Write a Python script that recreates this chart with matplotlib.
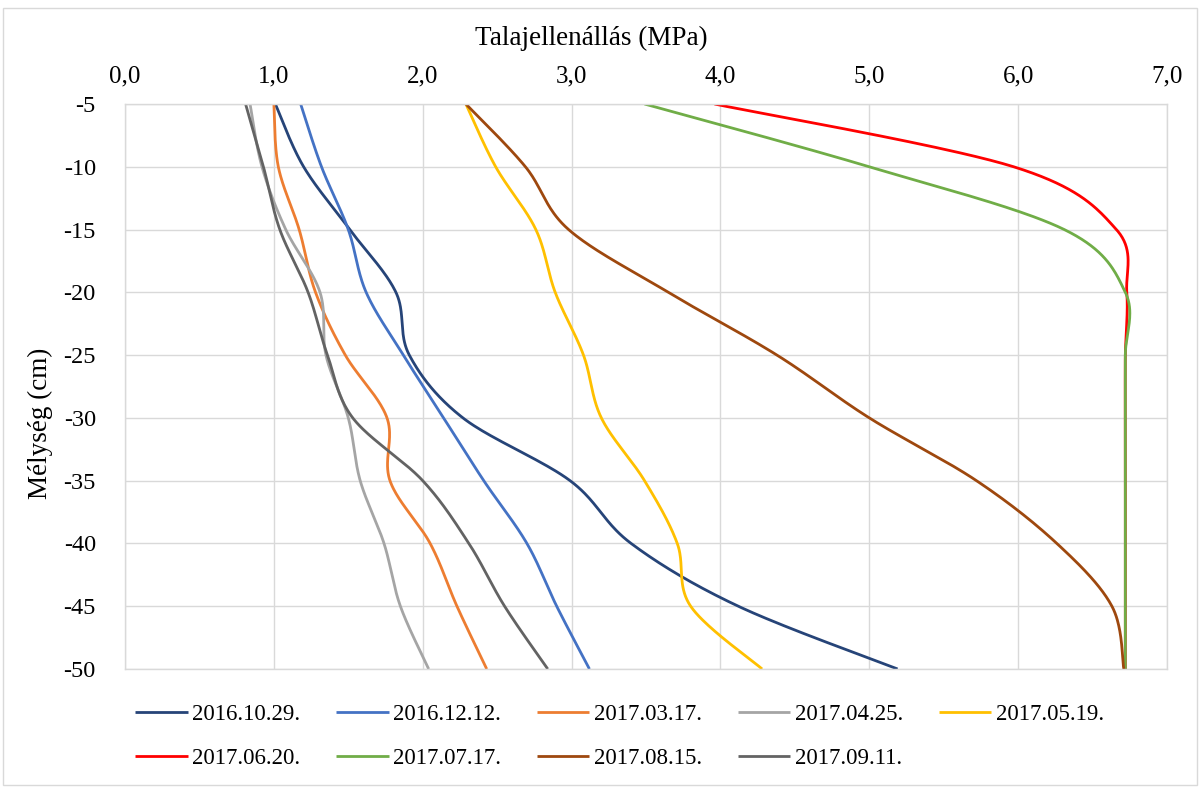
import matplotlib
matplotlib.use("Agg")
import matplotlib.pyplot as plt
import numpy as np
from matplotlib.patches import Rectangle

plt.rcParams['font.family'] = ['Liberation Serif', 'DejaVu Serif']
plt.rcParams['axes.unicode_minus'] = False

# Mélységek (cm) és talajellenállás (MPa) mérési időpontonként
melyseg = [-5, -10, -15, -20, -25, -30, -35, -40, -45, -50]

d_20161029 = [1.01, 1.20, 1.51, 1.82, 1.91, 2.27, 2.99, 3.40, 4.12, 5.19]
d_20161212 = [1.18, 1.32, 1.50, 1.62, 1.87, 2.14, 2.41, 2.70, 2.90, 3.12]
d_20170317 = [1.00, 1.03, 1.17, 1.28, 1.48, 1.76, 1.78, 2.05, 2.23, 2.43]
d_20170425 = [0.84, 0.92, 1.08, 1.31, 1.35, 1.50, 1.58, 1.74, 1.85, 2.04]
d_20170519 = [2.29, 2.49, 2.76, 2.89, 3.08, 3.20, 3.49, 3.71, 3.80, 4.28]
d_20170620 = [3.96, 5.97, 6.66, 6.73, 6.72, 6.72, 6.72, 6.72, 6.72, 6.72]
d_20170717 = [3.49, 5.00, 6.31, 6.72, 6.72, 6.72, 6.72, 6.72, 6.72, 6.72]
d_20170815 = [2.29, 2.69, 2.98, 3.65, 4.38, 5.00, 5.72, 6.26, 6.63, 6.71]
d_20170911 = [0.81, 0.93, 1.04, 1.23, 1.36, 1.53, 2.00, 2.31, 2.55, 2.84]

SOROZATOK = [
    ('2016.10.29.', d_20161029, '#264478'),
    ('2016.12.12.', d_20161212, '#4472C4'),
    ('2017.03.17.', d_20170317, '#ED7D31'),
    ('2017.04.25.', d_20170425, '#A5A5A5'),
    ('2017.05.19.', d_20170519, '#FFC000'),
    ('2017.06.20.', d_20170620, '#FF0000'),
    ('2017.07.17.', d_20170717, '#70AD47'),
    ('2017.08.15.', d_20170815, '#9E480E'),
    ('2017.09.11.', d_20170911, '#636363'),
]


def simitott(x, y, n=40):
    """Excel-szerű simított vonal (Catmull-Rom / Bezier szakaszok)"""
    p = np.column_stack([x, y]).astype(float)
    p = np.vstack([p[0], p, p[-1]])
    t = np.linspace(0, 1, n)[:, None]
    darabok = []
    for i in range(1, len(p) - 2):
        p0, p1, p2, p3 = p[i - 1], p[i], p[i + 1], p[i + 2]
        c1 = p1 + (p2 - p0) / 6
        c2 = p2 - (p3 - p1) / 6
        seg = ((1 - t) ** 3 * p1 + 3 * (1 - t) ** 2 * t * c1
               + 3 * (1 - t) * t ** 2 * c2 + t ** 3 * p2)
        darabok.append(seg if i == 1 else seg[1:])
    g = np.vstack(darabok)
    return g[:, 0], g[:, 1]


fig = plt.figure(figsize=(12, 7.87), dpi=100)
ax = fig.add_axes([125 / 1200, 1 - 669 / 787, 1042 / 1200, 565 / 787])

vonalak = []
for nev, ertek, szin in SOROZATOK:
    xs, ys = simitott(ertek, melyseg)
    l, = ax.plot(xs, ys, color=szin, lw=2.0, label=nev, solid_capstyle='butt')
    vonalak.append(l)

ax.set_xlim(0, 7)
ax.set_ylim(-50, -5)
ax.set_xticks(np.arange(0, 8, 1))
ax.set_xticklabels([f'{v:.1f}'.replace('.', ',') for v in range(8)])
ax.set_yticks(melyseg)
ax.set_yticklabels([str(v) for v in melyseg])
ax.xaxis.tick_top()
ax.tick_params(axis='x', length=0, pad=12, labelsize=18)
ax.tick_params(axis='y', length=0, pad=21, labelsize=17.5)
ax.grid(True, color='#d9d9d9', lw=1)
for s in ax.spines.values():
    s.set_color('#d9d9d9')
    s.set_linewidth(1)
ax.set_axisbelow(True)

fig.text(591 / 1200, 1 - 38 / 787, 'Talajellenállás (MPa)', ha='center', va='center', fontsize=19.5)
fig.text(40 / 1200, 1 - 423 / 787, 'Mélység (cm)', ha='center', va='center', rotation=90, fontsize=19.5)

# jelmagyarázat soronként: 5 + 4 elem
sorrend = [0, 5, 1, 6, 2, 7, 3, 8, 4]
fig.legend([vonalak[i] for i in sorrend], [SOROZATOK[i][0] for i in sorrend],
           loc='upper left', bbox_to_anchor=(135 / 1200, 1 - 704 / 787), ncol=5,
           frameon=False, fontsize=16.5, handlelength=2.3, handletextpad=0.2,
           columnspacing=1.55, labelspacing=0.98, borderpad=0, borderaxespad=0)

# Diagramterület kerete
fig.patches.append(Rectangle((3 / 1200, 2 / 787), 1194 / 1200, 777 / 787, transform=fig.transFigure,
                             fill=False, edgecolor='#d9d9d9', lw=1))

plt.savefig('out.png', dpi=100)
